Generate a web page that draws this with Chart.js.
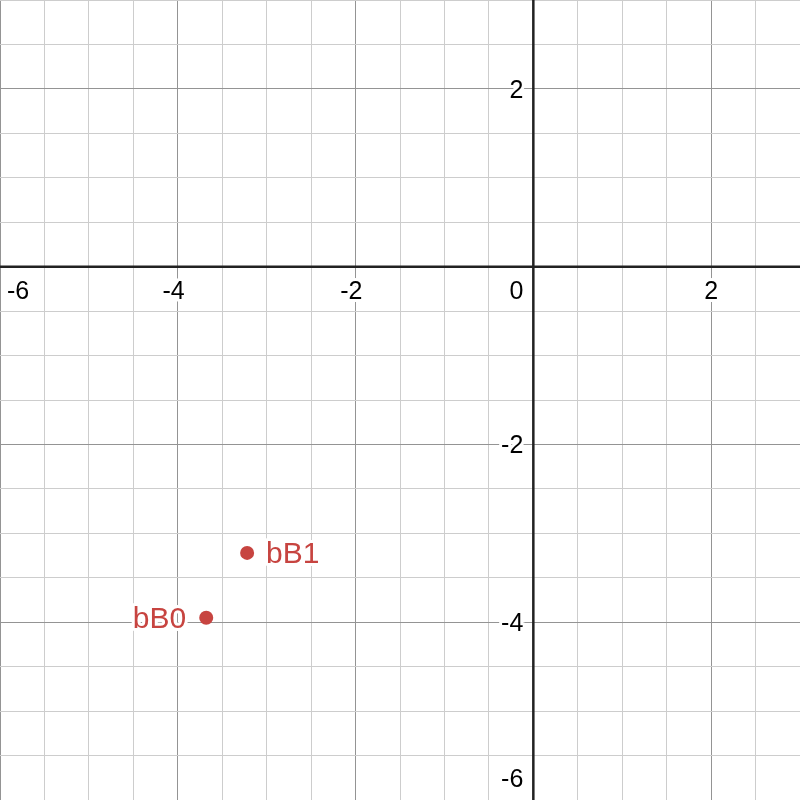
<!DOCTYPE html>
<html>
<head>
<meta charset="utf-8">
<script src="https://cdn.jsdelivr.net/npm/chart.js@4"></script>
<style>
html, body { margin: 0; padding: 0; background: #fff; }
#wrap { width: 800px; height: 800px; }
</style>
</head>
<body>
<div id="wrap"><canvas id="graph"></canvas></div>
<script>
// points
const pointNames = ["bB0", "bB1"];
const pointX = [-3.68, -3.22];
const pointY = [-3.95, -3.22];
const labelSide = ["left", "right"];

// axis labels
const xTickValues = [-6, -4, -2, 2];
const yTickValues = [2, -2, -4, -6];

const xRange = [-6, 3];
const yRange = [-6, 3];

const red = "#c74440";
const tickFont = "25px 'Liberation Sans', Arial, sans-serif";
const nameFont = "30px 'Liberation Sans', Arial, sans-serif";

function gridColor(ctx) {
    if (!ctx.tick) return "#cdcdcd";
    let v = ctx.tick.value;
    if (Math.abs(v) < 1e-9) return "rgba(0,0,0,0)";
    if (Math.abs(v % 2) < 1e-9) return "#949494";
    return "#cdcdcd";
}

function haloText(c, text, x, y) {
    c.lineJoin = "round";
    c.lineWidth = 6;
    c.strokeStyle = "#fff";
    c.strokeText(text, x, y);
    c.fillText(text, x, y);
}

const axesPlugin = {
    id: "axesPlugin",
    beforeDatasetsDraw(chart) {
        const c = chart.ctx;
        const xs = chart.scales.x, ys = chart.scales.y;
        const x0 = xs.getPixelForValue(0), y0 = ys.getPixelForValue(0);
        c.save();
        c.strokeStyle = "#222";
        c.lineWidth = 2.5;
        c.beginPath();
        c.moveTo(0, y0); c.lineTo(chart.width, y0);
        c.moveTo(x0, 0); c.lineTo(x0, chart.height);
        c.stroke();
        c.restore();
    },
    afterDatasetsDraw(chart) {
        const c = chart.ctx;
        const xs = chart.scales.x, ys = chart.scales.y;
        const x0 = xs.getPixelForValue(0), y0 = ys.getPixelForValue(0);
        c.save();
        c.font = tickFont;
        c.fillStyle = "#000";
        c.textBaseline = "alphabetic";

        // x labels under the axis
        xTickValues.forEach(v => {
            const txt = String(v);
            const digits = String(Math.abs(v));
            const dw = c.measureText(digits).width;
            const tw = c.measureText(txt).width;
            let right = xs.getPixelForValue(v) + dw / 2;
            if (right - tw < 7) right = 7 + tw;
            if (right > chart.width - 7) right = chart.width - 7;
            c.textAlign = "right";
            haloText(c, txt, right, y0 + 32);
        });

        // y labels left of the axis
        yTickValues.forEach(v => {
            let base = ys.getPixelForValue(v) + 9;
            if (base > chart.height - 13) base = chart.height - 13;
            c.textAlign = "right";
            haloText(c, String(v), x0 - 10, base);
        });

        // origin
        c.textAlign = "right";
        haloText(c, "0", x0 - 10, y0 + 32);

        // point names
        c.font = nameFont;
        c.fillStyle = red;
        pointNames.forEach((name, i) => {
            const px = xs.getPixelForValue(pointX[i]);
            const py = ys.getPixelForValue(pointY[i]) + 10.5;
            if (labelSide[i] === "left") {
                c.textAlign = "right";
                haloText(c, name, px - 20, py);
            } else {
                c.textAlign = "left";
                haloText(c, name, px + 19, py);
            }
        });
        c.restore();
    }
};

new Chart(document.getElementById("graph"), {
    type: "scatter",
    data: {
        datasets: [{
            label: "points",
            data: pointX.map((x, i) => ({ x: x, y: pointY[i] })),
            backgroundColor: red,
            borderWidth: 0,
            pointRadius: 7,
            pointHoverRadius: 7
        }]
    },
    options: {
        responsive: true,
        maintainAspectRatio: false,
        animation: false,
        layout: { padding: 0, autoPadding: false },
        plugins: {
            legend: { display: false },
            tooltip: { enabled: false }
        },
        scales: {
            x: {
                type: "linear",
                min: xRange[0],
                max: xRange[1],
                ticks: { display: false, stepSize: 0.5, autoSkip: false, maxTicksLimit: 100 },
                grid: { color: gridColor, lineWidth: 1, drawTicks: false },
                border: { display: false }
            },
            y: {
                type: "linear",
                min: yRange[0],
                max: yRange[1],
                ticks: { display: false, stepSize: 0.5, autoSkip: false, maxTicksLimit: 100 },
                grid: { color: gridColor, lineWidth: 1, drawTicks: false },
                border: { display: false }
            }
        }
    },
    plugins: [axesPlugin]
});
</script>
</body>
</html>
